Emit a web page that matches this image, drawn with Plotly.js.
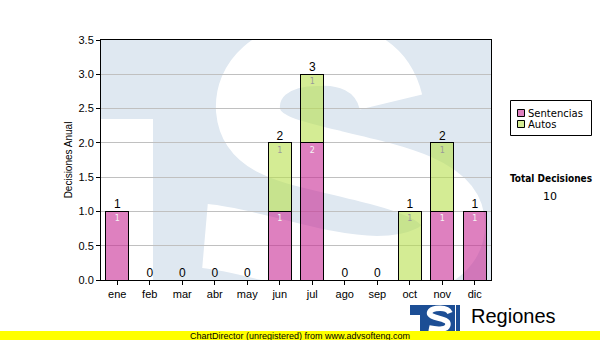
<!DOCTYPE html>
<html>
<head>
<meta charset="utf-8">
<script src="https://cdn.plot.ly/plotly-3.0.1.min.js"></script>
<style>html,body{margin:0;padding:0;background:#fff;}#chart{width:600px;height:340px;}</style>
</head>
<body>
<div id="chart"></div>
<script>
var months = ['ene','feb','mar','abr','may','jun','jul','ago','sep','oct','nov','dic'];
var sentencias = [1,0,0,0,0,1,2,0,0,0,1,1];
var autos = [0,0,0,0,0,1,1,0,0,1,1,0];
var seriesNames = ['Sentencias','Autos'];
var seriesColors = ['rgba(200,43,148,0.6)','rgba(183,223,77,0.6)'];
var legendSwatch = ['#de80bf','#d4ec94'];
var totalLabel = 'Total Decisiones';
var yTitle = 'Decisiones Anual';
var footerText = 'ChartDirector (unregistered) from www.advsofteng.com';
var brandText = 'Regiones';

var totals = months.map(function(m,i){ return sentencias[i] + autos[i]; });
var grandTotal = totals.reduce(function(a,b){return a+b;},0);

// plot area in pixels
var L = 101, R = 491, T = 40, B = 280, W = 600, H = 340;
function px(x){ return (x - L) / (R - L); }
function py(y){ return (B - y) / (B - T); }

var wm = "<svg xmlns='http://www.w3.org/2000/svg' viewBox='0 0 390 240' preserveAspectRatio='none'>" +
  "<rect width='390' height='240' fill='#dfe8f1'/>" +
  "<rect x='0' y='79' width='52' height='161' fill='#ffffff'/>" +
  "<path d='M 290 62 C 280 20 240 12 216 14 C 170 14 145 40 147 70 C 150 105 190 112 232 122 C 300 138 352 150 352 185 C 352 215 315 228 276 228 C 220 228 150 200 104 196' fill='none' stroke='#ffffff' stroke-width='64'/>" +
  "</svg>";
var logo = "<svg xmlns='http://www.w3.org/2000/svg' viewBox='0 0 50 26' preserveAspectRatio='none'>" +
  "<rect width='50' height='26' fill='#1c4e95'/>" +
  "<rect x='0' y='10' width='10' height='16' fill='#ffffff'/>" +
  "<path d='M 40 8 C 38 3 30 3 26 3.5 C 19 4.5 18 9 22 11 C 28 14 38 14 38 19 C 38 25 28 25 19 23' fill='none' stroke='#ffffff' stroke-width='5.5'/>" +
  "<rect x='45' y='0' width='1' height='26' fill='#ffffff'/>" +
  "</svg>";
function uri(s){ return 'data:image/svg+xml;charset=utf-8,' + encodeURIComponent(s); }

var traces = [
  {
    type: 'bar', name: seriesNames[0], x: months, y: sentencias,
    marker: {color: seriesColors[0], line: {color: '#000', width: 1}},
    text: sentencias.map(function(v){ return v ? String(v) : ''; }),
    textposition: 'inside', insidetextanchor: 'end', textangle: 0,
    textfont: {family: 'DejaVu Sans', size: 8, color: '#f4f4f4'},
    hoverinfo: 'skip'
  },
  {
    type: 'bar', name: seriesNames[1], x: months, y: autos,
    marker: {color: seriesColors[1], line: {color: '#000', width: 1}},
    text: autos.map(function(v){ return v ? String(v) : ''; }),
    textposition: 'inside', insidetextanchor: 'end', textangle: 0,
    textfont: {family: 'DejaVu Sans', size: 8, color: '#9a9a9a'},
    hoverinfo: 'skip'
  },
  {
    type: 'scatter', mode: 'text', x: months, y: totals,
    text: totals.map(String), textposition: 'top center',
    textfont: {family: 'Liberation Sans, Arial', size: 12, color: '#000'},
    showlegend: false, hoverinfo: 'skip', cliponaxis: false
  }
];

var shapes = [
  {type: 'rect', xref: 'paper', yref: 'paper', x0: px(0), x1: px(600), y0: py(340), y1: py(331),
   fillcolor: '#ffff00', line: {width: 0}, layer: 'above'},
  // legend box
  {type: 'rect', xref: 'paper', yref: 'paper', x0: px(510.5), x1: px(591.5), y0: py(135.5), y1: py(100.5),
   fillcolor: '#ffffff', line: {color: '#000', width: 1}, layer: 'above'}
];
var annotations = [];
seriesNames.forEach(function(n, i){
  var cy = 113 + i * 11;
  shapes.push({type: 'rect', xref: 'paper', yref: 'paper', x0: px(517.5), x1: px(524.5),
    y0: py(cy + 3.5), y1: py(cy - 3.5), fillcolor: legendSwatch[i], line: {color: '#000', width: 1}, layer: 'above'});
  annotations.push({text: n, xref: 'paper', yref: 'paper', x: px(526), y: py(cy),
    xanchor: 'left', yanchor: 'middle', showarrow: false,
    font: {family: 'DejaVu Sans', size: 10, color: '#000'}});
});
annotations.push(
  {text: '<b>' + totalLabel + '</b>', xref: 'paper', yref: 'paper', x: px(551), y: py(178),
   xanchor: 'center', yanchor: 'middle', showarrow: false,
   font: {family: 'DejaVu Sans Condensed, DejaVu Sans', size: 10, color: '#000'}},
  {text: String(grandTotal), xref: 'paper', yref: 'paper', x: px(550), y: py(196),
   xanchor: 'center', yanchor: 'middle', showarrow: false,
   font: {family: 'DejaVu Sans', size: 11, color: '#000'}},
  {text: footerText, xref: 'paper', yref: 'paper', x: px(300), y: py(335.5),
   xanchor: 'center', yanchor: 'middle', showarrow: false,
   font: {family: 'Liberation Sans, Arial', size: 9, color: '#000'}},
  {text: brandText, xref: 'paper', yref: 'paper', x: px(469), y: py(316),
   xanchor: 'left', yanchor: 'middle', showarrow: false,
   font: {family: 'Liberation Sans, Arial', size: 20, color: '#000'}}
);

var layout = {
  width: W, height: H,
  margin: {l: L, r: W - R, t: T, b: H - B, pad: 0},
  paper_bgcolor: '#ffffff', plot_bgcolor: 'rgba(0,0,0,0)',
  barmode: 'stack', bargap: 0.28,
  showlegend: false,
  xaxis: {
    type: 'category', range: [-0.5, 11.5], fixedrange: true,
    showline: true, linecolor: '#000', linewidth: 1, mirror: true,
    ticks: 'outside', ticklen: 4, tickcolor: '#000',
    showgrid: false, zeroline: false, automargin: false,
    tickfont: {family: 'Liberation Sans, Arial', size: 11, color: '#000'}
  },
  yaxis: {
    range: [0, 3.5], dtick: 0.5, tickformat: '.1f', fixedrange: true,
    showline: true, linecolor: '#000', linewidth: 1, mirror: true,
    ticks: 'outside', ticklen: 4, tickcolor: '#000',
    showgrid: true, gridcolor: '#c0c0c0', gridwidth: 1, zeroline: false,
    tickfont: {family: 'Liberation Sans, Arial', size: 11, color: '#000'},
    title: {text: yTitle, standoff: 4, font: {family: 'Liberation Sans, Arial', size: 10, color: '#000'}},
    automargin: false
  },
  images: [
    {source: uri(wm), xref: 'paper', yref: 'paper', x: 0, y: 1, sizex: 1, sizey: 1,
     xanchor: 'left', yanchor: 'top', sizing: 'stretch', layer: 'below'},
    {source: uri(logo), xref: 'paper', yref: 'paper', x: px(410), y: py(305),
     sizex: 50 / (R - L), sizey: 26 / (B - T), xanchor: 'left', yanchor: 'top', sizing: 'stretch', layer: 'above'}
  ],
  shapes: shapes,
  annotations: annotations
};

Plotly.newPlot('chart', traces, layout, {displayModeBar: false, staticPlot: true});
</script>
</body>
</html>
